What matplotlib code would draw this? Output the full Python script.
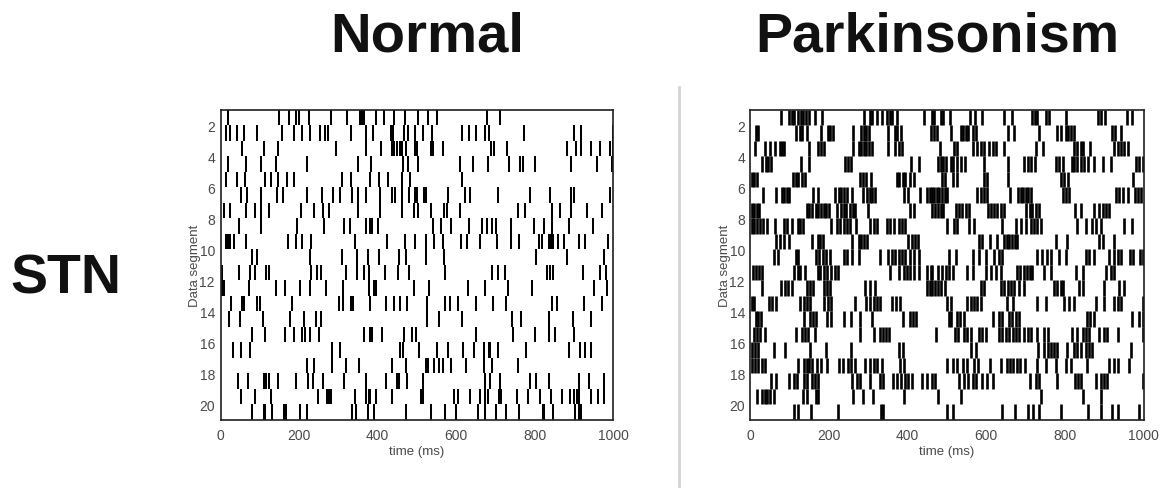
import matplotlib
matplotlib.use("Agg")
import matplotlib.pyplot as plt

plt.rcParams['font.family'] = ['Liberation Sans', 'DejaVu Sans']

# spike times (ms), one list per data segment
normal_spikes = [
    [19,148,175,191,199,225,281,322,356,360,364,396,417,442,469,503,528,550,678,710],
    [13,25,41,59,93,157,186,208,227,252,265,273,333,369,387,434,440,466,477,494,515,539,615,633,649,674,683,772,899,918,998],
    [55,110,146,295,371,409,436,442,449,458,462,471,496,500,536,540,566,689,697,729,882,905,918,943,965,990,998],
    [19,64,102,142,220,349,383,464,477,502,609,643,680,735,761,770,799,893,958,996],
    [15,41,62,114,129,146,168,188,308,333,381,403,425,462,483,615],
    [53,68,104,144,159,220,257,286,305,335,350,369,405,436,445,462,479,494,500,517,524,578,622,634,706,788,839,892,900,992],
    [10,23,64,87,104,123,205,239,260,277,349,407,461,492,502,536,568,577,610,756,776,844,865,893,933,972],
    [47,104,195,263,315,329,369,380,386,400,540,561,587,633,666,677,691,702,738,797,822,844,886,947],
    [13,19,25,34,66,172,192,208,230,343,424,469,494,524,543,566,611,627,661,704,739,759,810,818,835,841,846,859,875,911,927,985],
    [81,92,229,308,347,375,404,453,471,522,568,804,882,977],
    [4,47,75,89,117,123,231,246,256,320,347,366,377,419,451,479,570,691,705,723,831,839,846,922,966,982],
    [4,8,72,142,165,203,227,268,312,377,390,396,492,530,630,672,732,793,950,983],
    [27,55,61,92,100,182,301,312,331,337,380,422,441,458,475,526,572,583,604,651,694,727,844,856,926,971],
    [21,49,108,176,212,242,256,526,555,615,742,765,835,896,943],
    [79,112,163,188,208,214,229,250,364,380,386,411,466,488,498,651,744,801,835,850,899],
    [32,51,74,284,305,458,464,505,551,579,616,644,670,683,687,706,777,888,916,928,944],
    [220,237,284,320,353,436,471,522,527,543,555,566,587,625,670,691,756],
    [45,70,110,117,123,147,191,222,235,260,315,369,422,449,453,475,516,674,687,712,788,803,835,911,938,977],
    [53,89,129,248,271,277,281,341,369,377,381,396,436,509,514,594,604,636,661,674,680,708,715,755,783,812,841,869,890,900,907,913,944,961,975],
    [79,110,114,131,161,167,203,219,335,346,375,390,471,536,572,598,600,655,674,702,727,759,821,824,845,903,911,917],
]

park_spikes = [
    [77,98,105,111,122,128,134,141,148,165,182,288,303,309,322,334,347,354,360,374,441,462,468,484,491,507,559,571,590,645,665,717,723,730,751,760,804,885,893,903,959,972],
    [14,20,116,126,131,143,180,196,203,209,261,281,288,295,301,351,368,374,383,459,466,475,510,535,541,548,554,565,573,656,671,734,781,791,802,808,815,822,921,927,944],
    [12,36,50,63,74,80,85,149,173,180,186,261,275,281,288,295,301,309,351,368,379,385,482,518,525,567,577,586,594,607,618,624,644,726,745,824,832,841,847,864,925,934,942,951,961],
    [29,39,45,52,128,148,241,247,256,409,430,476,484,491,497,510,516,525,535,546,593,656,696,705,713,723,777,785,796,817,824,832,841,849,859,873,896,917,981,989,998],
    [3,9,16,109,116,122,131,139,279,286,295,307,373,379,388,394,406,417,488,494,514,525,593,603,656,790,798,808,974],
    [33,64,80,86,92,99,160,173,216,224,231,237,245,258,286,296,303,309,317,390,402,432,449,456,461,467,474,480,487,494,501,577,586,593,603,661,681,688,694,700,707,713,794,802,811,930,938,947,961,978,985,993],
    [3,9,16,22,143,150,156,167,173,179,186,193,201,220,230,237,244,252,261,267,300,406,415,461,469,477,484,491,522,531,539,548,556,605,611,620,628,637,645,702,711,717,726,734,825,842,873,887,896,904,913],
    [3,9,16,25,33,43,63,84,94,105,120,126,133,204,220,228,237,245,252,269,305,313,322,347,355,364,377,385,394,499,518,525,556,569,641,675,688,701,713,722,730,739,832,853,870,880,891,951,970],
    [65,75,84,97,156,171,177,184,258,275,281,288,297,402,411,419,425,582,590,610,628,645,652,659,665,672,679,777,805,887,897,924],
    [60,71,115,122,167,175,184,192,203,237,245,258,275,330,349,360,368,377,385,394,405,415,428,505,522,565,582,599,620,633,641,730,743,754,764,784,802,853,862,873,913,924,934,944,965,974,992,998],
    [6,14,22,29,110,120,126,139,171,177,186,194,204,215,223,356,377,390,398,406,417,428,449,459,463,476,488,498,505,514,550,565,599,611,624,637,678,686,695,703,711,717,747,764,828,845,904,917,925],
    [29,77,88,96,105,145,152,158,186,194,203,292,305,317,449,456,462,469,477,486,494,586,594,637,645,654,662,671,684,696,773,781,790,796,836,845,900,938,951],
    [3,8,46,54,64,126,135,143,152,188,196,205,267,295,303,313,322,330,360,371,381,501,511,552,560,569,577,586,652,667,730,751,798,811,824,879,900,924,934,944,998],
    [14,20,27,135,152,160,167,195,204,239,256,279,310,388,406,413,420,505,511,525,533,542,616,633,641,658,666,675,683,856,864,875,972,989,998],
    [8,16,25,38,116,131,139,147,164,279,313,330,338,345,352,471,520,528,543,552,560,582,590,599,633,641,650,658,667,675,683,696,705,713,730,747,756,819,832,845,853,862,887,900,908,936,998],
    [3,12,20,61,88,152,193,256,377,388,562,573,732,747,756,764,773,780,805,824,832,841,853,862,870,968],
    [3,12,20,29,36,122,137,143,150,157,169,179,194,224,235,247,256,267,292,303,313,322,334,381,390,501,514,525,541,550,569,579,609,638,652,661,669,678,686,699,730,751,777,802,815,856,911,924,934,964],
    [52,65,99,110,118,135,145,156,165,173,258,271,279,305,330,338,362,374,383,392,400,411,436,449,461,469,531,544,554,565,573,590,603,616,711,726,734,779,825,834,842,879,892,900,908,998],
    [16,29,36,43,50,59,133,145,167,173,262,286,311,390,477,535,739,845,891],
    [111,122,154,222,333,337,501,516,641,673,705,718,734,791,858,891,921,934,989],
]

x_ticks = [0, 200, 400, 600, 800, 1000]
y_ticks = [2, 4, 6, 8, 10, 12, 14, 16, 18, 20]
gray = "#4a4a4a"

fig = plt.figure(figsize=(11.68, 4.89), dpi=100)

def raster(left, spikes, lw):
    ax = fig.add_axes([left / 1168, 68 / 489, 393 / 1168, 310.5 / 489])
    for i, times in enumerate(spikes):
        ax.vlines(times, i + 1, i + 2, colors="k", linewidth=lw)
    ax.set_xlim(0, 1000)
    ax.set_ylim(21, 1)
    ax.set_xticks(x_ticks)
    ax.set_yticks(y_ticks)
    ax.tick_params(axis="x", length=0, labelsize=10, labelcolor=gray, pad=6)
    ax.tick_params(axis="y", length=0, labelsize=10, labelcolor=gray, pad=4)
    ax.set_xlabel("time (ms)", fontsize=9.5, color=gray, labelpad=2)
    ax.set_ylabel("Data segment", fontsize=9.5, color=gray, labelpad=-1)
    for s in ax.spines.values():
        s.set_linewidth(1.2)
        s.set_color("#202020")
    return ax

raster(220.5, normal_spikes, 1.45)
raster(750.5, park_spikes, 1.9)

fig.text(427 / 1168, 1 - 37 / 489, "Normal", ha="center", va="center",
         fontsize=40.5, fontweight="bold", color="#111111")
fig.text(937.5 / 1168, 1 - 37 / 489, "Parkinsonism", ha="center", va="center",
         fontsize=40, fontweight="bold", color="#111111")
fig.text(66 / 1168, 1 - 279 / 489, "STN", ha="center", va="center",
         fontsize=40, fontweight="bold", color="#111111")

fig.add_artist(plt.Line2D([679 / 1168, 679 / 1168], [0, 1 - 88 / 489],
                          color="#d4d4d4", linewidth=2))

fig.savefig("out.png", dpi=100)
